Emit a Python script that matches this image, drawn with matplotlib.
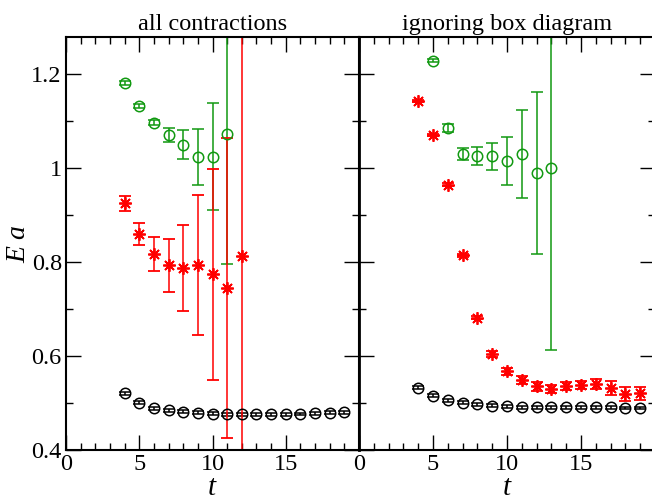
import numpy as np
import matplotlib
matplotlib.use("Agg")
import matplotlib.pyplot as plt
from matplotlib.ticker import MultipleLocator

plt.rcParams['font.family'] = ['Liberation Serif', 'DejaVu Serif']
plt.rcParams['mathtext.fontset'] = 'custom'
plt.rcParams['mathtext.it'] = 'Liberation Serif:italic'
plt.rcParams['mathtext.rm'] = 'Liberation Serif'

GREEN = '#119911'
RED = '#ff0000'
BLACK = '#000000'

# ---------------- left panel: all contractions ----------------
l_black_t = list(range(4, 20))
l_black_y = [0.521, 0.501, 0.489, 0.4845, 0.4815, 0.479, 0.477, 0.476,
             0.476, 0.476, 0.476, 0.476, 0.4765, 0.478, 0.4795, 0.480]
l_black_e = [0.003] * 16

l_green_t = [4, 5, 6, 7, 8, 9, 10, 11]
l_green_y = [1.1815, 1.132, 1.097, 1.071, 1.050, 1.024, 1.024, 1.073]
l_green_e = [0.004, 0.004, 0.006, 0.015, 0.031, 0.059, 0.114, 0.278]

l_red_t = [4, 5, 6, 7, 8, 9, 10, 11, 12]
l_red_y = [0.925, 0.859, 0.817, 0.793, 0.788, 0.793, 0.774, 0.745, 0.813]
l_red_e = [0.0156, 0.0234, 0.036, 0.057, 0.0915, 0.149, 0.225, 0.319, 0.55]

# ---------------- right panel: ignoring box diagram ----------------
r_black_t = list(range(4, 20))
r_black_y = [0.5326, 0.5156, 0.5057, 0.5007, 0.497, 0.494, 0.4929, 0.491,
             0.491, 0.491, 0.491, 0.491, 0.491, 0.491, 0.4894, 0.4894]
r_black_e = [0.003] * 16

r_green_t = [5, 6, 7, 8, 9, 10, 11, 12, 13]
r_green_y = [1.2283, 1.0858, 1.0298, 1.0255, 1.0248, 1.0156, 1.0298, 0.990, 1.0007]
r_green_e = [0.003, 0.009, 0.012, 0.0184, 0.0294, 0.0507, 0.094, 0.172, 0.388]

r_red_t = list(range(4, 20))
r_red_y = [1.1426, 1.070, 0.965, 0.814, 0.682, 0.604, 0.5674, 0.549,
           0.5355, 0.5298, 0.536, 0.538, 0.5404, 0.5326, 0.5198, 0.521]
r_red_e = [0.002, 0.002, 0.003, 0.004, 0.004, 0.006, 0.008, 0.0085,
           0.009, 0.009, 0.0085, 0.0085, 0.011, 0.015, 0.015, 0.014]

fig = plt.figure(figsize=(6.52, 5.0), dpi=100)
ax1 = fig.add_axes([66 / 652, 0.1, 293 / 652, 0.826])
ax2 = fig.add_axes([359 / 652, 0.1, 296 / 652, 0.826])

def draw_series(ax, t, y, e, color, star):
    if star:
        mk = dict(marker=(8, 2, 0), markersize=9, markeredgewidth=1.3,
                  markeredgecolor=color, markerfacecolor=color)
    else:
        mk = dict(marker='o', markersize=7.5, markeredgewidth=1.1,
                  markeredgecolor=color, markerfacecolor='none')
    ax.errorbar(t, y, yerr=e, linestyle='none', ecolor=color, elinewidth=1.1,
                capsize=4, capthick=1.1, **mk)

draw_series(ax1, l_black_t, l_black_y, l_black_e, BLACK, False)
draw_series(ax1, l_green_t, l_green_y, l_green_e, GREEN, False)
draw_series(ax1, l_red_t, l_red_y, l_red_e, RED, True)

draw_series(ax2, r_black_t, r_black_y, r_black_e, BLACK, False)
draw_series(ax2, r_green_t, r_green_y, r_green_e, GREEN, False)
draw_series(ax2, r_red_t, r_red_y, r_red_e, RED, True)

for ax in (ax1, ax2):
    ax.set_xlim(0, 20)
    ax.set_ylim(0.4, 1.279)
    ax.xaxis.set_major_locator(MultipleLocator(5))
    ax.xaxis.set_minor_locator(MultipleLocator(1))
    ax.yaxis.set_major_locator(MultipleLocator(0.2))
    ax.yaxis.set_minor_locator(MultipleLocator(0.1))
    ax.tick_params(which='both', direction='in', top=True, right=True,
                   labelsize=17.5, width=1.0)
    ax.tick_params(which='major', length=11, pad=3)
    ax.tick_params(which='minor', length=5)
    for s in ax.spines.values():
        s.set_linewidth(1.5)
    ax.set_xticks([0, 5, 10, 15])
    ax.set_xlabel('$t$', fontsize=21, labelpad=0)

ax1.set_yticks([0.4, 0.6, 0.8, 1.0, 1.2])
ax1.set_yticklabels(['0.4', '0.6', '0.8', '1', '1.2'])
ax2.set_yticklabels([])
ax2.spines['left'].set_linewidth(2.0)

ax1.set_ylabel('$E\\ a$', fontsize=20, labelpad=0)
ax1.set_title('all contractions', fontsize=17.5, pad=5)
ax2.set_title('ignoring box diagram', fontsize=17.5, pad=5)

fig.savefig('out.png', dpi=100)
